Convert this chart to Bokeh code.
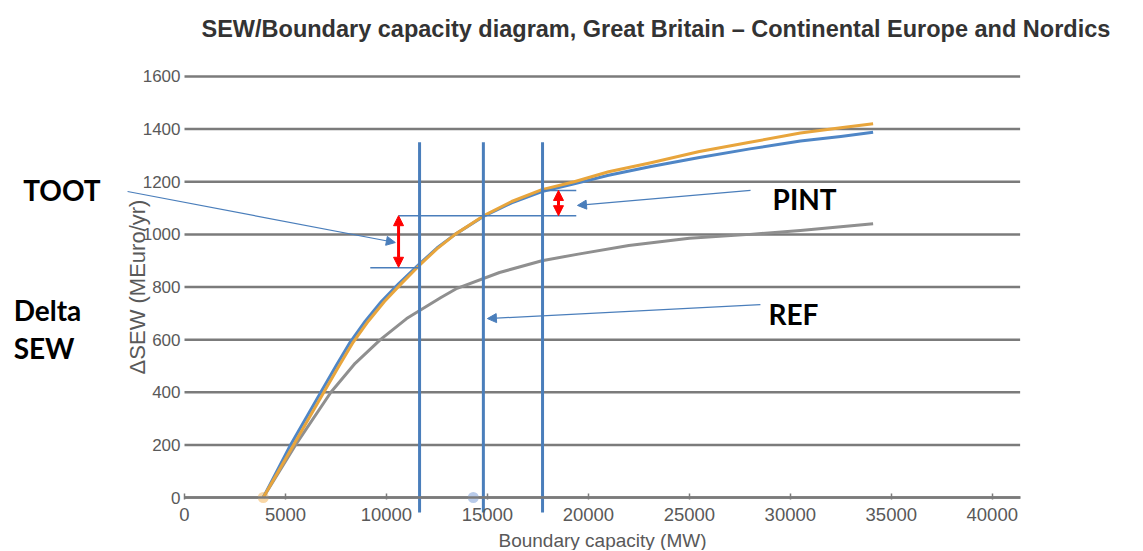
from bokeh.plotting import figure
from bokeh.models import Range1d, FixedTicker, Label, Arrow, NormalHead
from bokeh.embed import file_html
from bokeh.resources import INLINE

# ---- data ----
x_ticks = [0, 5000, 10000, 15000, 20000, 25000, 30000, 35000, 40000]
y_ticks = [0, 200, 400, 600, 800, 1000, 1200, 1400, 1600]
x_extent = (0, 41380)          # extent of the plotted area / gridlines

blue_x = [3900, 5250, 6750, 7500, 8200, 8950, 9750, 10600, 11600, 12500, 13400, 14800, 16200, 17700,
          19300, 21000, 23100, 25500, 28000, 30500, 32500, 34100]
blue_y = [0, 200, 400, 500, 590, 670, 745, 812, 885, 948, 1000, 1068, 1120, 1163,
          1192, 1225, 1258, 1292, 1325, 1355, 1372, 1388]

orange_x = [3900, 5400, 6900, 7650, 8350, 9100, 9900, 10700, 11600, 12500, 13400, 14800, 16200, 17700,
            19300, 21000, 23100, 25500, 28000, 30500, 32500, 34100]
orange_y = [0, 200, 400, 500, 590, 670, 745, 810, 880, 945, 1000, 1070, 1125, 1170,
            1200, 1238, 1272, 1315, 1350, 1385, 1405, 1420]

gray_x = [3900, 5500, 7250, 8450, 9700, 11000, 12700, 13500, 15600, 17700, 19500, 22000,
          25000, 28000, 30500, 34100]
gray_y = [0, 200, 400, 510, 600, 680, 760, 795, 855, 900, 925, 958,
          985, 1000, 1015, 1040]

# reference capacities (vertical lines) and their extent
vline_x = [11640, 14800, 17730]
vline_bottom = [-57, -57, -57]
vline_top = [1350, 1350, 1350]

# horizontal level markers
hline_x0 = [10600, 9200, 17730]
hline_x1 = [19400, 11640, 19400]
hline_y = [1071, 873, 1167]

# delta SEW double arrows (x, low, high)
delta_x = [10600, 18520]
delta_lo = [875, 1071]
delta_hi = [1071, 1167]

# start-point markers
dot_x = [3900, 14300]
dot_y = [0, 0]
dot_colors = ["#f9d7a6", "#b9cbea"]

GRID = "#7b7b7b"
BLUE = "#4a7ebb"
TXT = "#595959"

p = figure(frame_width=1142, frame_height=498,
           x_range=Range1d(-9112, 47440), y_range=Range1d(-201.4, 1691.2),
           output_backend="svg", toolbar_location=None,
           min_border_left=0, min_border_right=0,
           min_border_top=52, min_border_bottom=0)

p.background_fill_color = "white"
p.border_fill_color = "white"
p.outline_line_color = None

# title
p.title.text = "SEW/Boundary capacity diagram, Great Britain \u2013 Continental Europe and Nordics"
p.title.align = "left"
p.title.offset = 201
p.title.standoff = 22
p.title.text_font = "Liberation Sans"
p.title.text_font_style = "bold"
p.title.text_font_size = "23.5px"
p.title.text_color = "#333333"

# axes
p.xaxis.ticker = FixedTicker(ticks=x_ticks)
p.xaxis.fixed_location = 0
p.xaxis.bounds = x_extent
p.xaxis.axis_line_color = GRID
p.xaxis.axis_line_width = 2.5
p.xaxis.major_tick_line_color = GRID
p.xaxis.major_tick_line_width = 1.5
p.xaxis.major_tick_in = 4
p.xaxis.major_tick_out = 2
p.xaxis.minor_tick_line_color = None
p.xaxis.major_label_standoff = 8
p.xaxis.major_label_text_font = "Liberation Sans"
p.xaxis.major_label_text_font_size = "18.5px"
p.xaxis.major_label_text_color = TXT
p.xaxis.axis_label = "Boundary capacity (MW)"
p.xaxis.axis_label_standoff = 6
p.xaxis.axis_label_text_font = "Liberation Sans"
p.xaxis.axis_label_text_font_style = "normal"
p.xaxis.axis_label_text_font_size = "19px"
p.xaxis.axis_label_text_color = TXT

p.yaxis.ticker = FixedTicker(ticks=y_ticks)
p.yaxis.fixed_location = 0
p.yaxis.bounds = (0, 1600)
p.yaxis.axis_line_color = None
p.yaxis.major_tick_line_color = None
p.yaxis.minor_tick_line_color = None
p.yaxis.major_label_standoff = -2
p.yaxis.major_label_text_font = "Liberation Sans"
p.yaxis.major_label_text_font_size = "17px"
p.yaxis.major_label_text_color = TXT
p.yaxis.axis_label = "\u0394SEW (MEuro/yr)"
p.yaxis.axis_label_standoff = -10
p.yaxis.axis_label_text_font = "Liberation Sans"
p.yaxis.axis_label_text_font_style = "normal"
p.yaxis.axis_label_text_font_size = "22px"
p.yaxis.axis_label_text_color = TXT

p.xgrid.visible = False
p.ygrid.visible = False

# horizontal gridlines over the plotted extent
p.segment(x0=[x_extent[0]] * len(y_ticks), y0=y_ticks,
          x1=[x_extent[1]] * len(y_ticks), y1=y_ticks,
          line_color=GRID, line_width=2.5, level="underlay")

# markers at start
p.scatter(dot_x, dot_y, size=11, color=dot_colors, line_color=None)

# curves
p.line(gray_x, gray_y, line_color="#8f8f8f", line_width=3, line_join="round")
p.line(blue_x, blue_y, line_color="#4f86c6", line_width=3, line_join="round")
p.line(orange_x, orange_y, line_color="#e8a53c", line_width=3, line_join="round")

# vertical capacity lines
p.segment(x0=vline_x, y0=vline_bottom, x1=vline_x, y1=vline_top,
          line_color=BLUE, line_width=3)

# horizontal level markers
p.segment(x0=hline_x0, y0=hline_y, x1=hline_x1, y1=hline_y,
          line_color=BLUE, line_width=1.5)

# red double arrows
for xx, lo, hi in zip(delta_x, delta_lo, delta_hi):
    p.add_layout(Arrow(start=NormalHead(size=10, fill_color="red", line_color="red"),
                       end=NormalHead(size=10, fill_color="red", line_color="red"),
                       x_start=xx, y_start=lo, x_end=xx, y_end=hi,
                       line_color="red", line_width=3))

# pointer arrows to annotations
pointers = [(-2820, 1163, 10440, 969), (28030, 1167, 19460, 1110), (28520, 733, 15000, 680)]
for xs, ys, xe, ye in pointers:
    p.add_layout(Arrow(end=NormalHead(size=9, fill_color=BLUE, line_color=BLUE),
                       x_start=xs, y_start=ys, x_end=xe, y_end=ye,
                       line_color=BLUE, line_width=1.2))

def big(text, x, y, align="left"):
    p.add_layout(Label(x=x, y=y, text=text, text_font="Lato", text_font_style="bold",
                       text_font_size="28px", text_color="black",
                       text_align=align, text_baseline="middle"))

big("TOOT", -6070, 1167, "center")
big("Delta", -8460, 714)
big("SEW", -8460, 570)
big("PINT", 29120, 1136)
big("REF", 28920, 699)

open("out.html", "w").write(file_html(p, INLINE))
